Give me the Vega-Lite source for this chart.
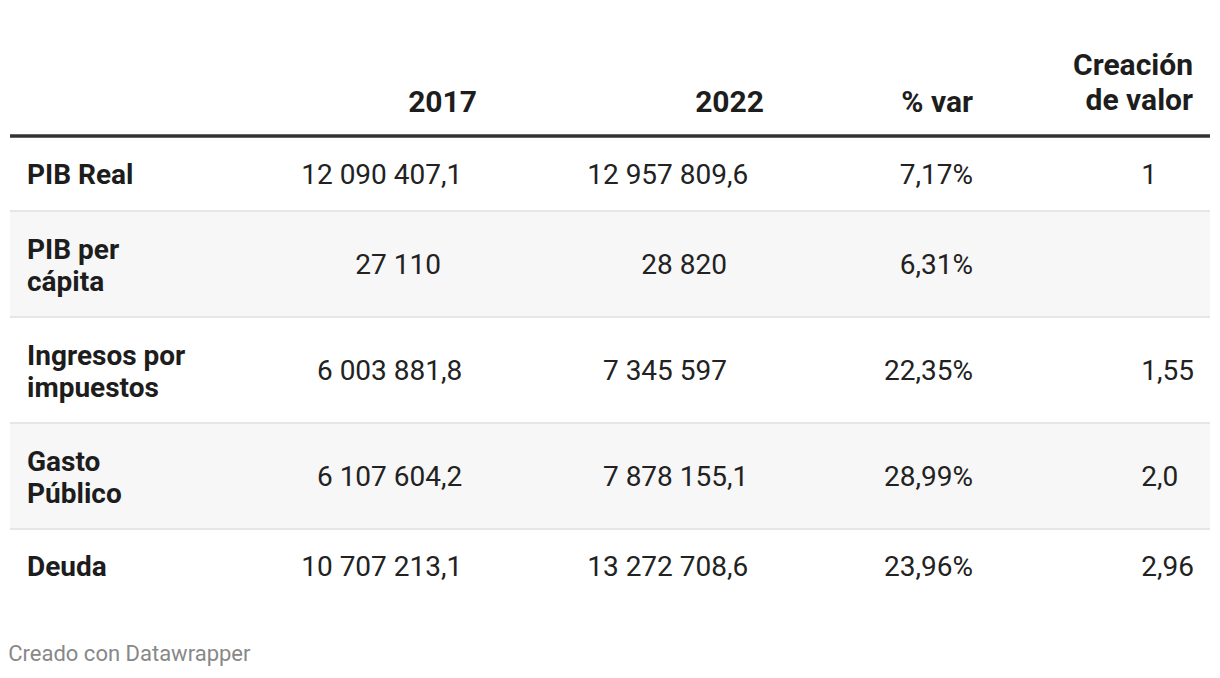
{
  "$schema": "https://vega.github.io/schema/vega-lite/v6.json",
  "width": 1200,
  "height": 640,
  "autosize": "none",
  "padding": {"left": 10, "right": 10, "top": 0, "bottom": 38},
  "background": "white",
  "config": {"view": {"stroke": null}, "font": "Roboto"},
  "title": {"text": "Creado con Datawrapper", "orient": "bottom", "anchor": "start", "offset": 4, "fontSize": 22, "fontWeight": "normal", "color": "#888888", "font": "Roboto", "baseline": "top"},
  "datasets": {
    "rows": [
      {"row": 1, "label": "PIB Real", "top": 0.5, "bottom": 1.5, "shade": false},
      {"row": 2, "label": "PIB per\ncápita", "top": 1.5, "bottom": 2.5, "shade": true},
      {"row": 3, "label": "Ingresos por\nimpuestos", "top": 2.5, "bottom": 3.5, "shade": false},
      {"row": 4, "label": "Gasto\nPúblico", "top": 3.5, "bottom": 4.5, "shade": true},
      {"row": 5, "label": "Deuda", "top": 4.5, "bottom": 5.5, "shade": false}
    ],
    "cells": [
      {"row": 1, "col": 1, "int": "12 090 407", "dec": ",1"},
      {"row": 1, "col": 2, "int": "12 957 809", "dec": ",6"},
      {"row": 1, "col": 3, "int": "7,17%", "dec": ""},
      {"row": 1, "col": 4, "int": "1", "dec": ""},
      {"row": 2, "col": 1, "int": "27 110", "dec": ""},
      {"row": 2, "col": 2, "int": "28 820", "dec": ""},
      {"row": 2, "col": 3, "int": "6,31%", "dec": ""},
      {"row": 3, "col": 1, "int": "6 003 881", "dec": ",8"},
      {"row": 3, "col": 2, "int": "7 345 597", "dec": ""},
      {"row": 3, "col": 3, "int": "22,35%", "dec": ""},
      {"row": 3, "col": 4, "int": "1", "dec": ",55"},
      {"row": 4, "col": 1, "int": "6 107 604", "dec": ",2"},
      {"row": 4, "col": 2, "int": "7 878 155", "dec": ",1"},
      {"row": 4, "col": 3, "int": "28,99%", "dec": ""},
      {"row": 4, "col": 4, "int": "2", "dec": ",0"},
      {"row": 5, "col": 1, "int": "10 707 213", "dec": ",1"},
      {"row": 5, "col": 2, "int": "13 272 708", "dec": ",6"},
      {"row": 5, "col": 3, "int": "23,96%", "dec": ""},
      {"row": 5, "col": 4, "int": "2", "dec": ",96"}
    ],
    "headers": [
      {"col": 1, "h": "2017"},
      {"col": 2, "h": "2022"},
      {"col": 3, "h": "% var"},
      {"col": 4, "h": "Creación\nde valor"}
    ]
  },
  "resolve": {"scale": {"x": "independent"}},
  "layer": [
    {
      "data": {"name": "rows"},
      "transform": [{"filter": "datum.shade"}],
      "mark": {"type": "rect", "color": "#f7f7f7"},
      "encoding": {
        "y": {"field": "top", "type": "quantitative", "axis": null, "scale": {"domain": [0, 0.5, 1, 1.5, 2, 2.5, 3, 3.5, 4, 4.5, 5, 5.5], "range": [117.5, 136, 174, 211, 264, 317, 370, 423, 476, 529, 566, 603], "zero": false, "nice": false}},
        "y2": {"field": "bottom"}
      }
    },
    {
      "data": {"name": "rows"},
      "transform": [{"filter": "datum.row > 1"}],
      "mark": {"type": "rule", "color": "#e6e6e6", "strokeWidth": 2},
      "encoding": {
        "y": {"field": "top", "type": "quantitative", "axis": null}
      }
    },
    {
      "data": {"name": "rows"},
      "transform": [{"filter": "datum.row == 1"}],
      "mark": {"type": "rule", "color": "#333333", "strokeWidth": 3.5},
      "encoding": {
        "y": {"field": "top", "type": "quantitative", "axis": null}
      }
    },
    {
      "data": {"name": "rows"},
      "transform": [{"filter": "indexof(datum.label, '\\n') < 0"}],
      "mark": {"type": "text", "align": "left", "baseline": "middle", "dy": 2, "fontSize": 28, "fontWeight": "bold", "color": "#1d1d1d"},
      "encoding": {
        "x": {"datum": 0, "type": "quantitative", "axis": null, "scale": {"domain": [0, 1, 2, 3, 4], "range": [17, 431, 717, 963, 1147], "zero": false, "nice": false}},
        "y": {"field": "row", "type": "quantitative", "axis": null},
        "text": {"field": "label"}
      }
    },
    {
      "data": {"name": "rows"},
      "transform": [{"filter": "indexof(datum.label, '\\n') >= 0"}],
      "mark": {"type": "text", "align": "left", "baseline": "middle", "dy": -13, "fontSize": 28, "fontWeight": "bold", "color": "#1d1d1d", "lineBreak": "\n", "lineHeight": 32},
      "encoding": {
        "x": {"datum": 0, "type": "quantitative", "axis": null, "scale": {"domain": [0, 1, 2, 3, 4], "range": [17, 431, 717, 963, 1147], "zero": false, "nice": false}},
        "y": {"field": "row", "type": "quantitative", "axis": null},
        "text": {"field": "label"}
      }
    },
    {
      "data": {"name": "cells"},
      "mark": {"type": "text", "align": "right", "baseline": "middle", "dy": 2, "fontSize": 28, "color": "#222222"},
      "encoding": {
        "x": {"field": "col", "type": "quantitative", "axis": null, "scale": {"domain": [0, 1, 2, 3, 4], "range": [17, 431, 717, 963, 1147], "zero": false, "nice": false}},
        "y": {"field": "row", "type": "quantitative", "axis": null},
        "text": {"field": "int"}
      }
    },
    {
      "data": {"name": "cells"},
      "mark": {"type": "text", "align": "left", "baseline": "middle", "dy": 2, "fontSize": 28, "color": "#222222"},
      "encoding": {
        "x": {"field": "col", "type": "quantitative", "axis": null, "scale": {"domain": [0, 1, 2, 3, 4], "range": [17, 431, 717, 963, 1147], "zero": false, "nice": false}},
        "y": {"field": "row", "type": "quantitative", "axis": null},
        "text": {"field": "dec"}
      }
    },
    {
      "data": {"name": "headers"},
      "transform": [{"filter": "indexof(datum.h, '\\n') < 0"}],
      "mark": {"type": "text", "align": "right", "baseline": "bottom", "fontSize": 30, "fontWeight": "bold", "color": "#1d1d1d"},
      "encoding": {
        "x": {"field": "col", "type": "quantitative", "axis": null, "scale": {"domain": [1, 2, 3, 4], "range": [467, 754, 963, 1183], "zero": false, "nice": false}},
        "y": {"datum": 0, "type": "quantitative", "axis": null},
        "text": {"field": "h"}
      }
    },
    {
      "data": {"name": "headers"},
      "transform": [{"filter": "indexof(datum.h, '\\n') >= 0"}],
      "mark": {"type": "text", "align": "right", "baseline": "bottom", "dy": -37, "fontSize": 30, "fontWeight": "bold", "color": "#1d1d1d", "lineBreak": "\n", "lineHeight": 35},
      "encoding": {
        "x": {"field": "col", "type": "quantitative", "axis": null, "scale": {"domain": [1, 2, 3, 4], "range": [467, 754, 963, 1183], "zero": false, "nice": false}},
        "y": {"datum": 0, "type": "quantitative", "axis": null},
        "text": {"field": "h"}
      }
    }
  ]
}
